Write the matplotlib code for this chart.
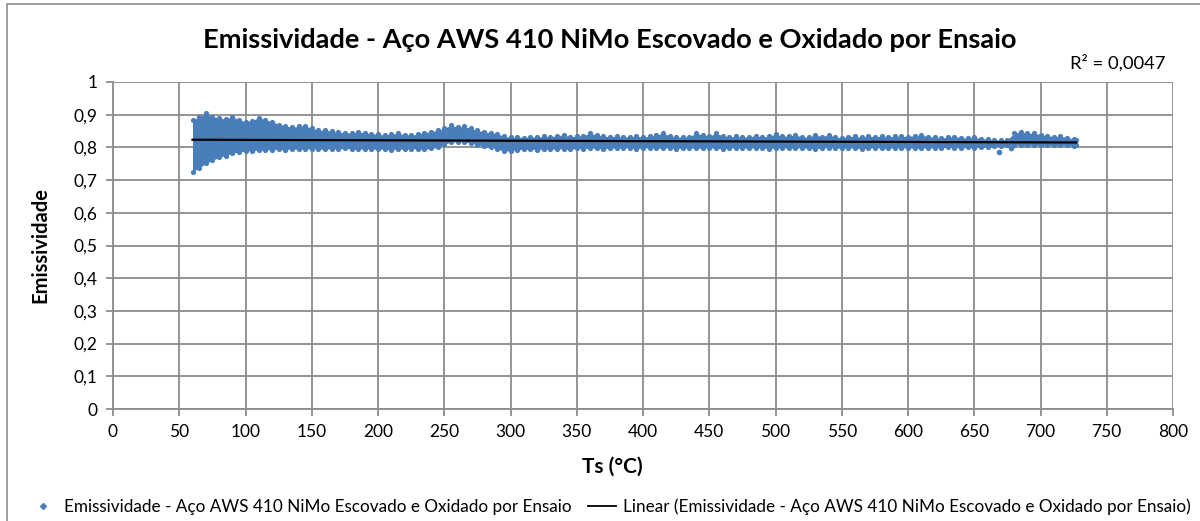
import numpy as np
import matplotlib
matplotlib.use('Agg')
import matplotlib.pyplot as plt
from matplotlib.lines import Line2D
from matplotlib.patches import Rectangle
from matplotlib.ticker import FuncFormatter

plt.rcParams['font.family'] = ['Lato', 'DejaVu Sans']

# Envelope of the measured cloud: Ts (°C) and upper / lower emissivity
ts = [60, 65, 70, 75, 80, 85, 90, 95, 100, 105, 110, 115, 120, 125, 130, 135, 140, 145,
      150, 155, 160, 165, 170, 175, 180, 185, 190, 195, 200, 205, 210, 215, 220, 225, 230,
      235, 240, 245, 250, 255, 260, 265, 270, 275, 280, 285, 290, 295, 300, 305, 310, 315,
      320, 325, 330, 335, 340, 345, 350, 355, 360, 365, 370, 375, 380, 385, 390, 395, 400,
      405, 410, 415, 420, 425, 430, 435, 440, 445, 450, 455, 460, 465, 470, 475, 480, 485,
      490, 495, 500, 505, 510, 515, 520, 525, 530, 535, 540, 545, 550, 555, 560, 565, 570,
      575, 580, 585, 590, 595, 600, 605, 610, 615, 620, 625, 630, 635, 640, 645, 650, 655,
      660, 665, 670, 675, 680, 685, 690, 695, 700, 705, 710, 715, 720, 725, 727]

emis_max = [0.884, 0.893, 0.904, 0.893, 0.891, 0.886, 0.894, 0.884, 0.879, 0.882, 0.891, 0.884,
            0.879, 0.870, 0.866, 0.862, 0.864, 0.866, 0.858, 0.853, 0.853, 0.850, 0.846, 0.845,
            0.844, 0.848, 0.844, 0.842, 0.840, 0.838, 0.841, 0.843, 0.839, 0.838, 0.840, 0.845,
            0.848, 0.852, 0.858, 0.868, 0.862, 0.864, 0.858, 0.852, 0.848, 0.844, 0.842, 0.834,
            0.831, 0.832, 0.830, 0.833, 0.831, 0.834, 0.832, 0.836, 0.838, 0.833, 0.834, 0.836,
            0.843, 0.838, 0.834, 0.833, 0.834, 0.831, 0.833, 0.834, 0.832, 0.834, 0.838, 0.843,
            0.836, 0.832, 0.831, 0.833, 0.843, 0.838, 0.834, 0.843, 0.836, 0.832, 0.834, 0.831,
            0.833, 0.835, 0.832, 0.834, 0.841, 0.834, 0.835, 0.838, 0.832, 0.831, 0.838, 0.833,
            0.838, 0.832, 0.829, 0.833, 0.834, 0.831, 0.834, 0.833, 0.834, 0.832, 0.834, 0.834,
            0.833, 0.836, 0.838, 0.833, 0.831, 0.829, 0.831, 0.833, 0.830, 0.829, 0.831, 0.827,
            0.826, 0.824, 0.822, 0.824, 0.843, 0.848, 0.843, 0.843, 0.839, 0.836, 0.833, 0.834,
            0.830, 0.826, 0.823]

emis_min = [0.726, 0.737, 0.751, 0.760, 0.770, 0.775, 0.782, 0.786, 0.789, 0.790, 0.792, 0.792,
            0.793, 0.794, 0.793, 0.795, 0.794, 0.795, 0.796, 0.795, 0.794, 0.796, 0.795, 0.797,
            0.795, 0.794, 0.796, 0.795, 0.794, 0.795, 0.793, 0.795, 0.794, 0.796, 0.795, 0.794,
            0.797, 0.800, 0.810, 0.816, 0.818, 0.817, 0.813, 0.808, 0.803, 0.800, 0.796, 0.788,
            0.790, 0.793, 0.794, 0.795, 0.793, 0.795, 0.794, 0.796, 0.795, 0.794, 0.797, 0.796,
            0.798, 0.797, 0.795, 0.798, 0.797, 0.799, 0.798, 0.796, 0.798, 0.799, 0.797, 0.798,
            0.799, 0.796, 0.798, 0.799, 0.797, 0.798, 0.799, 0.797, 0.796, 0.798, 0.799, 0.798,
            0.797, 0.799, 0.798, 0.796, 0.798, 0.799, 0.797, 0.798, 0.799, 0.797, 0.796, 0.798,
            0.799, 0.798, 0.797, 0.799, 0.798, 0.796, 0.798, 0.799, 0.798, 0.797, 0.799, 0.798,
            0.799, 0.797, 0.798, 0.799, 0.798, 0.799, 0.800, 0.799, 0.798, 0.800, 0.799, 0.800,
            0.801, 0.803, 0.805, 0.806, 0.807, 0.807, 0.806, 0.807, 0.806, 0.807, 0.806, 0.807,
            0.806, 0.803, 0.806]

# isolated points outside the band
out_ts = [669, 678]
out_emis = [0.787, 0.799]

# linear trend line (R² = 0,0047)
trend_ts = [60, 727]
trend_emis = [0.8235, 0.8150]

cor = '#4a7ebb'
titulo = 'Emissividade - Aço AWS 410 NiMo Escovado e Oxidado por Ensaio'

fig = plt.figure(figsize=(12, 5.21), dpi=100)
ax = fig.add_axes([113 / 1200, 1 - 409 / 521, 1060 / 1200, 327 / 521])

# moldura da área do gráfico
fig.patches.append(Rectangle((7 / 1200, -0.05), 1.1, 1 - 4 / 521 + 0.05, transform=fig.transFigure,
                             fill=False, edgecolor='#8c8c8c', linewidth=1.2, zorder=0))

ax.fill_between(ts, emis_min, emis_max, color=cor, linewidth=0, zorder=2)
ax.scatter(ts, emis_max, marker='o', s=14, color=cor, linewidths=0, zorder=2)
ax.scatter(ts, emis_min, marker='o', s=14, color=cor, linewidths=0, zorder=2)
ax.scatter(out_ts, out_emis, marker='o', s=16, color=cor, linewidths=0, zorder=2)
ax.plot(trend_ts, trend_emis, color='black', linewidth=1.6, zorder=3)

ax.set_xlim(0, 800)
ax.set_ylim(0, 1)
ax.set_xticks(np.arange(0, 801, 50))
ax.set_yticks(np.arange(0, 1.01, 0.1))
ax.yaxis.set_major_formatter(FuncFormatter(lambda v, p: ('%g' % round(v, 1)).replace('.', ',')))
ax.grid(True, color='#8c8c8c', linewidth=1.3)
ax.set_axisbelow(True)
for s in ['top', 'right']:
    ax.spines[s].set_visible(False)
for s in ['left', 'bottom']:
    ax.spines[s].set_color('#8c8c8c')
    ax.spines[s].set_linewidth(1.3)
ax.tick_params(axis='both', colors='#8c8c8c', labelcolor='black', labelsize=12.5,
               length=5, width=1.3, pad=6)

fig.text(610 / 1200, 1 - 40 / 521, titulo, ha='center', va='center', fontsize=19.6, fontweight='bold')
fig.text(40 / 1200, 1 - 245 / 521, 'Emissividade', ha='center', va='center', rotation=90,
         fontsize=14.5, fontweight='bold')
fig.text(612 / 1200, 1 - 467 / 521, 'Ts (°C)', ha='center', va='center', fontsize=15, fontweight='bold')
fig.text(1165 / 1200, 1 - 63 / 521, 'R² = 0,0047', ha='right', va='center', fontsize=13.3)

handles = [Line2D([], [], marker='D', linestyle='none', color=cor, markersize=3),
           Line2D([], [], color='black', linewidth=1.3)]
labels = [titulo, 'Linear (' + titulo + ')']
fig.legend(handles, labels, ncol=2, loc='center', bbox_to_anchor=(610 / 1200, 1 - 507 / 521),
           frameon=False, fontsize=12.3, handlelength=1.6, handletextpad=0.4, columnspacing=1.0)

fig.savefig('out.png', dpi=100)
